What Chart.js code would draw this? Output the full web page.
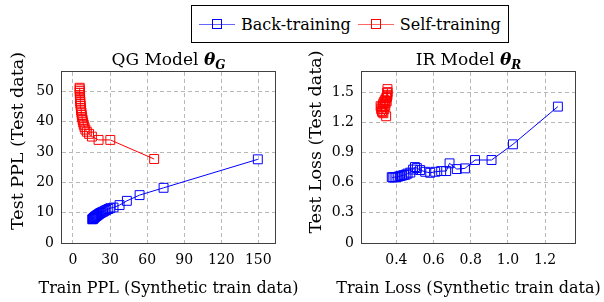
<!DOCTYPE html>
<html lang="en">
<head>
<meta charset="UTF-8">
<title>Back-training vs Self-training</title>
<script src="https://cdn.jsdelivr.net/npm/chart.js"></script>
<style>
  body { margin: 0; width: 604px; height: 302px; background: #fff; position: relative; overflow: hidden; font-family: 'DejaVu Serif', serif; }
  .panel { position: absolute; top: 0; }
  #legend { position: absolute; left: 191px; top: 5px; width: 318px; height: 38px; border: 1px solid #000; box-sizing: border-box;
            display: flex; align-items: center; font-size: 16px; color: #000; }
  .item { display: flex; align-items: center; margin-left: 7px; }
  .sample { position: relative; width: 36px; height: 10px; margin-right: 6px; }
  .sample::before { content: ''; position: absolute; left: 0; right: 0; top: 4.5px; height: 1px; background: var(--c); opacity: 0.6; }
  .sample::after { content: ''; position: absolute; left: 13px; top: 0; width: 8px; height: 8px; border: 1px solid var(--c); }
</style>
</head>
<body>
<div id="legend">
  <span class="item"><span class="sample" style="--c:#0000ff"></span>Back-training</span>
  <span class="item"><span class="sample" style="--c:#ff0000"></span>Self-training</span>
</div>
<canvas id="qgChart" class="panel" style="left:0" width="312" height="302"></canvas>
<canvas id="irChart" class="panel" style="left:300px" width="304" height="302"></canvas>

<script>
// QG model: train PPL (x) vs test PPL (y)
const qgBackX = [149.6, 73.3, 53.9, 43.6, 37.7, 32.8, 30.2, 28.6, 27.0, 25.6, 24.3, 23.2, 22.3, 21.5, 20.8, 20.1, 19.5, 19.0, 18.5, 18.0, 17.6, 17.2, 16.8, 16.5, 16.2, 15.9, 15.6];
const qgBackY = [27.6, 18.2, 15.8, 13.9, 12.5, 11.7, 11.5, 11.2, 10.9, 10.6, 10.3, 10.1, 9.9, 9.7, 9.5, 9.3, 9.1, 9.0, 8.8, 8.7, 8.5, 8.4, 8.2, 8.1, 8.0, 7.9, 7.8];
const qgSelfX = [65.7, 30.2, 20.7, 15.3, 13.0, 11.2, 10.0, 9.3, 8.7, 8.2, 7.8, 7.4, 7.1, 6.8, 6.6, 6.4, 6.2, 6.0, 5.9, 5.8, 5.7, 5.6, 5.5, 5.5, 5.4, 5.4];
const qgSelfY = [27.7, 34.0, 34.0, 35.1, 36.0, 36.7, 37.4, 38.2, 39.0, 39.8, 40.6, 41.4, 42.2, 43.0, 43.8, 44.5, 45.3, 46.0, 46.7, 47.4, 48.1, 48.8, 49.5, 50.1, 50.7, 51.2];

// IR model: train loss (x) vs test loss (y)
const irBackX = [1.269, 1.027, 0.912, 0.823, 0.769, 0.725, 0.686, 0.668, 0.641, 0.609, 0.582, 0.555, 0.528, 0.510, 0.500, 0.490, 0.475, 0.460, 0.450, 0.440, 0.430, 0.420, 0.410, 0.400, 0.390, 0.380, 0.375];
const irBackY = [1.356, 0.981, 0.825, 0.825, 0.742, 0.735, 0.792, 0.715, 0.715, 0.708, 0.698, 0.708, 0.725, 0.745, 0.755, 0.730, 0.700, 0.690, 0.680, 0.675, 0.670, 0.665, 0.660, 0.655, 0.655, 0.650, 0.655];
const irSelfX = [0.345, 0.330, 0.322, 0.318, 0.320, 0.325, 0.315, 0.328, 0.335, 0.340, 0.332, 0.338, 0.342, 0.345, 0.348, 0.350, 0.352, 0.350, 0.353, 0.348, 0.352];
const irSelfY = [1.26, 1.29, 1.31, 1.33, 1.35, 1.30, 1.36, 1.38, 1.33, 1.36, 1.40, 1.42, 1.39, 1.44, 1.41, 1.46, 1.47, 1.49, 1.50, 1.45, 1.53];

const qgXTicks = [0, 30, 60, 90, 120, 150];
const qgYTicks = [0, 10, 20, 30, 40, 50];
const irXTicks = [0.4, 0.6, 0.8, 1.0, 1.2];
const irYTicks = [0, 0.3, 0.6, 0.9, 1.2, 1.5];

const FONT = "'DejaVu Serif', serif";
const pts = (xs, ys) => xs.map((x, i) => ({x: x, y: ys[i]}));

function series(label, color, data) {
  return {
    label: label, data: data, showLine: true,
    borderColor: color, borderWidth: 1,
    pointStyle: 'rect', pointRadius: 6.3,
    pointBorderColor: color, pointBackgroundColor: 'rgba(0,0,0,0)', pointBorderWidth: 1
  };
}

// plot frame, titles with bold italic theta, axis labels
const decor = {
  id: 'decor',
  afterDraw(chart, args, o) {
    const {ctx, chartArea: a} = chart;
    const cx = (a.left + a.right) / 2;
    ctx.save();
    ctx.strokeStyle = '#404040';
    ctx.lineWidth = 1;
    ctx.strokeRect(Math.round(a.left) - 0.5, Math.round(a.top) - 0.5, Math.round(a.right - a.left) + 1, Math.round(a.bottom - a.top) + 1);

    const parts = [
      {t: o.title, f: '17px ' + FONT, dy: 0},
      {t: 'θ', f: 'bold italic 17px ' + FONT, dy: 0},
      {t: o.sub, f: 'bold italic 12px ' + FONT, dy: 4}
    ];
    let w = 0;
    parts.forEach(p => { ctx.font = p.f; p.w = ctx.measureText(p.t).width; w += p.w; });
    let x = cx - w / 2;
    ctx.fillStyle = '#000';
    ctx.textBaseline = 'alphabetic';
    ctx.textAlign = 'left';
    parts.forEach(p => { ctx.font = p.f; ctx.fillText(p.t, x, 65 + p.dy); x += p.w; });

    ctx.textAlign = 'center';
    ctx.textBaseline = 'middle';
    ctx.font = '16px ' + FONT;
    ctx.fillText(o.xlabel, cx, 289);

    ctx.font = '17.5px ' + FONT;
    ctx.translate(o.ylx, o.yly);
    ctx.rotate(-Math.PI / 2);
    ctx.fillText(o.ylabel, 0, 0);
    ctx.restore();
  }
};

function makeChart(id, cfg) {
  const tickFont = {family: FONT, size: 14};
  new Chart(document.getElementById(id), {
    type: 'scatter',
    data: {
      datasets: [
        series('Back-training', '#0000ff', cfg.back),
        series('Self-training', '#ff0000', cfg.self)
      ]
    },
    options: {
      responsive: false,
      animation: false,
      layout: {padding: {top: 72, right: cfg.padRight, left: 0, bottom: 0}},
      plugins: {
        legend: {display: false},
        tooltip: {enabled: false},
        decor: cfg.decor
      },
      scales: {
        x: {
          type: 'linear', min: cfg.xMin, max: cfg.xMax,
          afterBuildTicks: s => { s.ticks = cfg.xTicks.map(v => ({value: v})); },
          afterFit: s => { s.height = 59; },
          grid: {color: '#b8b8b8', drawTicks: false},
          border: {display: false, dash: [4, 3]},
          ticks: {autoSkip: false, maxRotation: 0, padding: 9, color: '#000', font: tickFont, callback: cfg.xFmt}
        },
        y: {
          type: 'linear', min: cfg.yMin, max: cfg.yMax,
          afterBuildTicks: s => { s.ticks = cfg.yTicks.map(v => ({value: v})); },
          afterFit: s => { s.width = 62; },
          grid: {color: '#b8b8b8', drawTicks: false},
          border: {display: false, dash: [4, 3]},
          ticks: {autoSkip: false, padding: 8, color: '#000', font: tickFont, callback: cfg.yFmt}
        }
      }
    },
    plugins: [decor]
  });
}

makeChart('qgChart', {
  back: pts(qgBackX, qgBackY), self: pts(qgSelfX, qgSelfY),
  xMin: -8.9, xMax: 163.5, yMin: 0, yMax: 56.4,
  xTicks: qgXTicks, yTicks: qgYTicks, padRight: 37,
  xFmt: v => String(v), yFmt: v => String(v),
  decor: {title: 'QG Model ', sub: 'G', xlabel: 'Train PPL (Synthetic train data)', ylabel: 'Test PPL (Test data)', ylx: 18, yly: 141}
});

makeChart('irChart', {
  back: pts(irBackX, irBackY), self: pts(irSelfX, irSelfY),
  xMin: 0.215, xMax: 1.361, yMin: 0, yMax: 1.70,
  xTicks: irXTicks, yTicks: irYTicks, padRight: 29,
  xFmt: v => v.toFixed(1), yFmt: v => (v === 0 ? '0' : v.toFixed(1)),
  decor: {title: 'IR Model ', sub: 'R', xlabel: 'Train Loss (Synthetic train data)', ylabel: 'Test Loss (Test data)', ylx: 16, yly: 142}
});
</script>
</body>
</html>
